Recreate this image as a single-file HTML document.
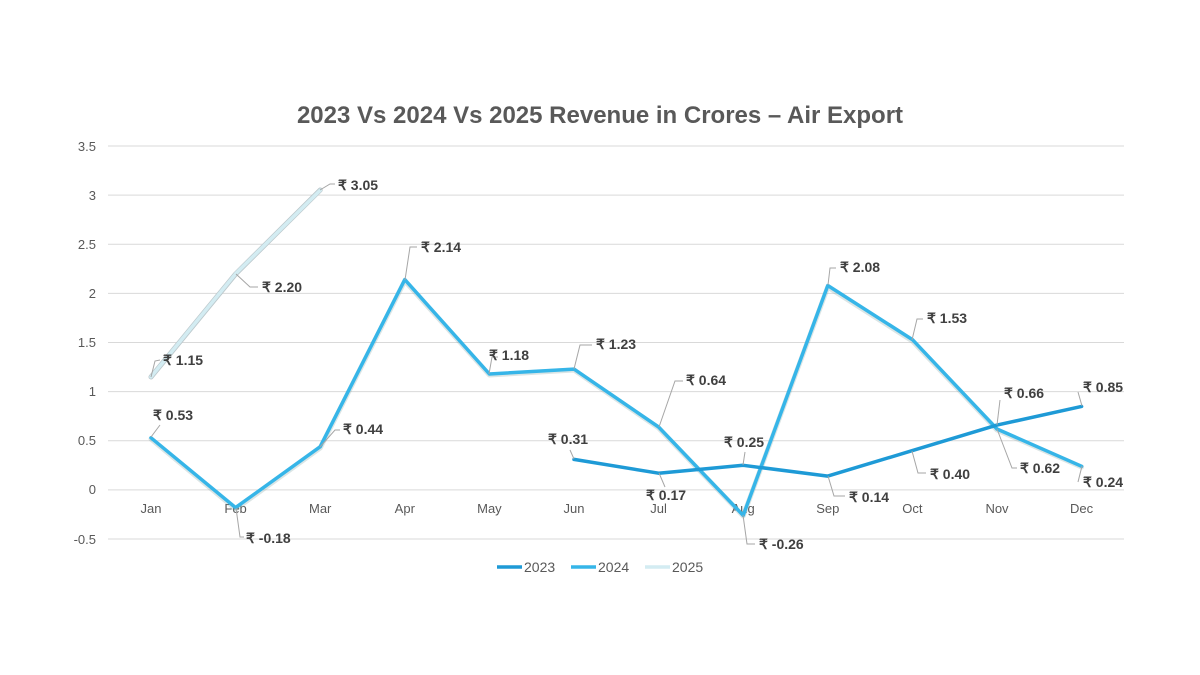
<!DOCTYPE html><html><head><meta charset="utf-8"><style>body{margin:0;background:#fff}svg{display:block}text{font-family:"Liberation Sans",sans-serif}</style></head><body>
<svg width="1200" height="675" viewBox="0 0 1200 675">
<text x="600" y="123" text-anchor="middle" font-size="24" font-weight="bold" fill="#595959">2023 Vs 2024 Vs 2025 Revenue in Crores – Air Export</text>
<g stroke="#d9d9d9" stroke-width="1">
<line x1="108" x2="1124" y1="146" y2="146"/><line x1="108" x2="1124" y1="195.1" y2="195.1"/><line x1="108" x2="1124" y1="244.3" y2="244.3"/><line x1="108" x2="1124" y1="293.4" y2="293.4"/><line x1="108" x2="1124" y1="342.5" y2="342.5"/><line x1="108" x2="1124" y1="391.6" y2="391.6"/><line x1="108" x2="1124" y1="440.8" y2="440.8"/><line x1="108" x2="1124" y1="489.9" y2="489.9"/><line x1="108" x2="1124" y1="539" y2="539"/></g>
<g font-size="13" fill="#595959" text-anchor="end">
<text x="96" y="151">3.5</text><text x="96" y="200">3</text><text x="96" y="249">2.5</text><text x="96" y="298">2</text><text x="96" y="347">1.5</text><text x="96" y="396">1</text><text x="96" y="445">0.5</text><text x="96" y="494">0</text><text x="96" y="544">-0.5</text></g>
<g font-size="13" fill="#595959" text-anchor="middle">
<text x="151" y="513">Jan</text><text x="235.6" y="513">Feb</text><text x="320.2" y="513">Mar</text><text x="404.8" y="513">Apr</text><text x="489.4" y="513">May</text><text x="574" y="513">Jun</text><text x="658.6" y="513">Jul</text><text x="743.2" y="513">Aug</text><text x="827.8" y="513">Sep</text><text x="912.4" y="513">Oct</text><text x="997" y="513">Nov</text><text x="1081.6" y="513">Dec</text></g>
<g fill="none" stroke-linejoin="round" stroke-linecap="round">
<polyline stroke="#bcc8cc" stroke-width="5" points="151,377 235.6,274 320.2,190"/>
<polyline stroke="#d3ecf2" stroke-width="3.5" points="151,376.9 235.6,273.8 320.2,190.2"/>
<polyline stroke="#8aa" stroke-opacity=".3" stroke-width="5" points="151,439 235.6,509 320.2,448 404.8,281 489.4,375 574,370 658.6,428 743.2,516 827.8,287 912.4,341 997,430 1081.6,467"/>
<polyline stroke="#36b5e8" stroke-width="3.5" points="151,437.8 235.6,507.6 320.2,446.7 404.8,279.6 489.4,374 574,369.1 658.6,427 743.2,515.4 827.8,285.5 912.4,339.6 997,429 1081.6,466.3"/>
<polyline stroke="#1e9ad6" stroke-width="3.5" points="574,459.4 658.6,473.2 743.2,465.3 827.8,476.1 912.4,450.6 997,425.1 1081.6,406.4"/>
</g>
<g stroke="#a6a6a6" stroke-width="1" fill="none">
<polyline points="151,377 155,361 160,360"/><polyline points="236,274 250,287 258,287"/><polyline points="320,190 330,184 335,184"/>
<polyline points="151,437 160,425"/><polyline points="236,508 240,537 244,537"/><polyline points="320,447 335,430 340,430"/>
<polyline points="405,280 410,247 417,247"/><polyline points="489,374 492,357 498,357"/><polyline points="574,369 580,345 592,345"/>
<polyline points="659,427 675,381 683,381"/><polyline points="743,515 747,544 755,544"/><polyline points="828,285 830,268 836,268"/>
<polyline points="912,340 917,319 923,319"/><polyline points="997,429 1012,468 1017,468"/><polyline points="1082,466 1078,482"/>
<polyline points="574,459 570,450"/><polyline points="659,473 665,487"/><polyline points="743,465 745,452"/><polyline points="828,476 834,496 845,496"/>
<polyline points="912,451 918,473 926,473"/><polyline points="997,425 1000,400"/><polyline points="1082,406 1078,392"/>
</g>
<g font-size="14" font-weight="bold" fill="#404040">
<text x="163" y="365">₹ 1.15</text><text x="262" y="292">₹ 2.20</text><text x="338" y="190">₹ 3.05</text>
<text x="153" y="420">₹ 0.53</text><text x="246" y="543">₹ -0.18</text><text x="343" y="434">₹ 0.44</text>
<text x="421" y="252">₹ 2.14</text><text x="489" y="360">₹ 1.18</text><text x="596" y="349">₹ 1.23</text>
<text x="686" y="385">₹ 0.64</text><text x="759" y="549">₹ -0.26</text><text x="840" y="272">₹ 2.08</text>
<text x="927" y="323">₹ 1.53</text><text x="1020" y="473">₹ 0.62</text><text x="1083" y="487">₹ 0.24</text>
<text x="548" y="444">₹ 0.31</text><text x="646" y="500">₹ 0.17</text><text x="724" y="447">₹ 0.25</text>
<text x="849" y="502">₹ 0.14</text><text x="930" y="479">₹ 0.40</text><text x="1004" y="398">₹ 0.66</text><text x="1083" y="392">₹ 0.85</text>
</g>
<g stroke-width="3.5"><line x1="497" x2="522" y1="567" y2="567" stroke="#1e9ad6"/><line x1="571" x2="596" y1="567" y2="567" stroke="#36b5e8"/><line x1="645" x2="670" y1="567" y2="567" stroke="#d3ecf2"/></g>
<g font-size="14" fill="#595959"><text x="524" y="572">2023</text><text x="598" y="572">2024</text><text x="672" y="572">2025</text></g>
</svg></body></html>
